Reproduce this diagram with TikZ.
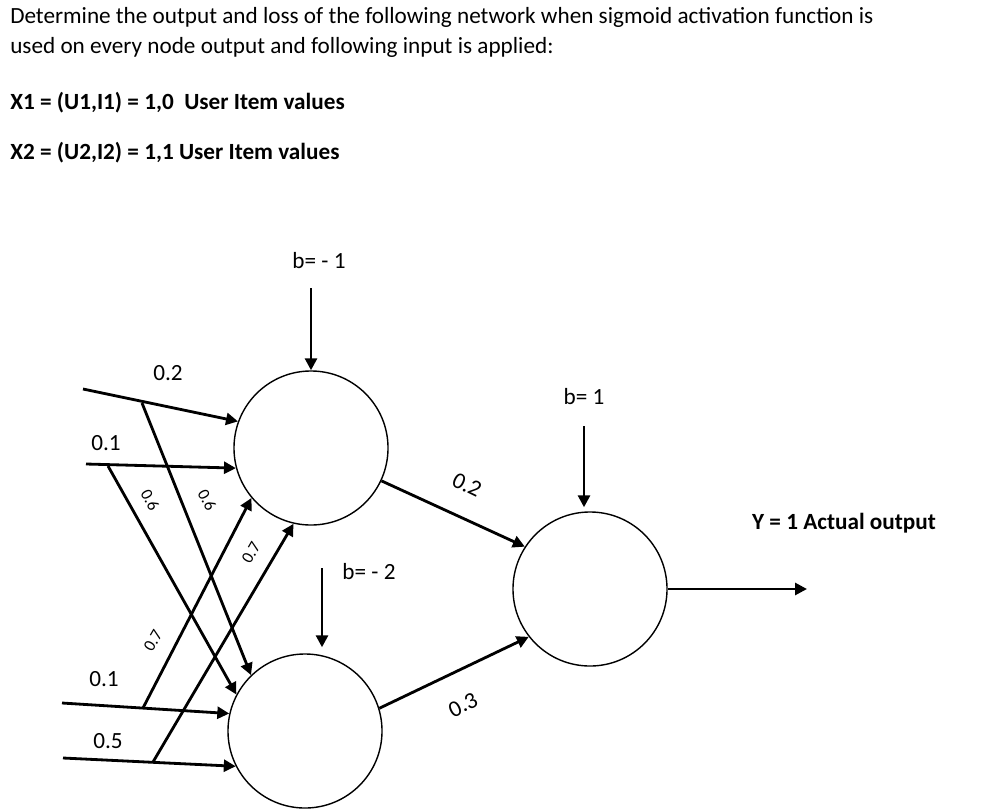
\documentclass[tikz,border=0pt]{standalone}
\usepackage{fontspec}
\setmainfont{Carlito}
\usetikzlibrary{arrows.meta,calc,positioning}
\tikzset{
  neuron/.style={circle,draw,line width=1pt,minimum size=3.85cm,inner sep=0pt},
  wire/.style={line width=2pt,-{Triangle[length=8.5pt,width=8.5pt]}},
  task text/.style={anchor=west,inner sep=0pt,font=\fontsize{16.5}{19}\selectfont},
  weight/.style={font=\fontsize{16.5}{19}\selectfont,inner sep=1pt},
  small weight/.style={font=\fontsize{12}{14}\selectfont,inner sep=0pt},
}

\begin{document}
\begin{tikzpicture}[x=0.025cm,y=-0.025cm]
  \useasboundingbox (0,0) rectangle (984,808);
  % task
  \node[task text] (t1) at (10,17) {Determine the output and loss of the following network when sigmoid activation function is};
  \node[task text] (t2) at (10,47) {used on every node output and following input is applied:};
  \node[task text,font=\fontsize{16.5}{19}\selectfont\bfseries] (t3) at (10,103) {X1 = (U1,I1) = 1,0\ \ User Item values};
  \node[task text,font=\fontsize{16.5}{19}\selectfont\bfseries] (t4) at (10,153) {X2 = (U2,I2) = 1,1 User Item values};

  % neurons
  \node[neuron] (h1) at (311,448) {};
  \node[neuron] (h2) at (305,731) {};
  \node[neuron] (out) at (590,589) {};

  % input ends
  \coordinate (i1) at (83,389);
  \coordinate (i2) at (86,464);
  \coordinate (i3) at (62,703);
  \coordinate (i4) at (63,758);
  \coordinate (s1) at (142,403);
  \coordinate (s2) at (108,466);
  \coordinate (s3) at (143,708);
  \coordinate (s4) at (153,762);

  \draw[wire] (i1) -- (h1.160);
  \draw[wire] (i2) -- (h1.195);
  \draw[wire] (i3) -- (h2.167);
  \draw[wire] (i4) -- (h2.207);
  \draw[wire] (s1) -- (h2.134);
  \draw[wire] (s2) -- (h2.152);
  \draw[wire] (s3) -- (h1.220);
  \draw[wire] (s4) -- (h1.257);

  \node[weight] (w1) at (168,373) {0.2};
  \node[weight] (w2) at (106,443) {0.1};
  \node[weight] (w3) at (104,679) {0.1};
  \node[weight] (w4) at (108,741) {0.5};
  \foreach \x/\y/\r/\t in {207/500/-62/0.6,150/500/-62/0.6,153/641/60/0.7,251/553/60/0.7}{
    \node[small weight,rotate=\r] at (\x,\y) {\t};
  }

  % biases
  \coordinate (c1) at (311,288);
  \coordinate (c2) at (322,568);
  \coordinate (c3) at (584,426);
  \draw[wire] (c1) -- (c1 |- h1.north);
  \draw[wire] (c2) -- ($(c2 |- h2.north)+(0,-6)$);
  \draw[wire] (c3) -- ($(c3 |- out.north)+(0,-4)$);
  \node[weight] (b1) at (319,261) {b= - 1};
  \node[weight] (b2) at (369,572) {b= - 2};
  \node[weight] (b3) at (584,397) {b= 1};

  % hidden to output
  \draw[wire] (h1.335) -- (out.147);
  \draw[wire] (h2.17) -- (out.218);
  \node[weight,rotate=-26] (w5) at (467,485) {0.2};
  \node[weight,rotate=26] (w6) at (463,705) {0.3};

  % output
  \coordinate (y) at (807,589);
  \draw[wire] (out.east) -- (y);
  \node[weight,font=\fontsize{16.5}{19}\selectfont\bfseries] (yl) at (844,523) {Y = 1 Actual output};
\end{tikzpicture}
\end{document}
